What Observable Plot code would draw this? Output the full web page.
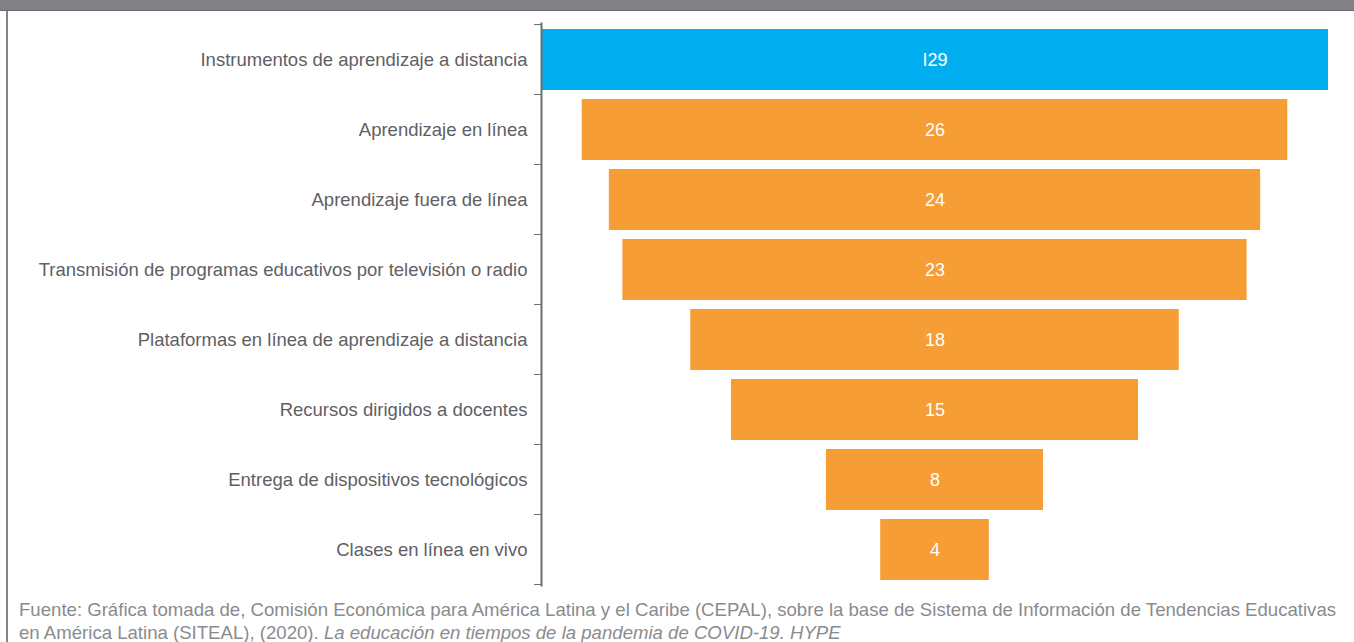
<!DOCTYPE html>
<html>
<head>
<meta charset="utf-8">
<script src="https://cdn.jsdelivr.net/npm/d3@7"></script>
<script src="https://cdn.jsdelivr.net/npm/@observablehq/plot@0.6"></script>
<style>
  html, body { margin: 0; padding: 0; background: #fff; width: 1354px; height: 642px; overflow: hidden; }
  #topband { position: absolute; left: 0; top: 0; width: 1354px; height: 10px; background: #818286; border-bottom: 1px solid #6b6c70; }
  #leftline { position: absolute; left: 6px; top: 11px; width: 2px; height: 631px; background: #848589; }
  #chart { position: absolute; left: 0; top: 11px; }
  #caption { position: absolute; left: 19px; top: 598px; width: 1335px; font-family: "Liberation Sans", Arial, sans-serif; font-size: 18.6px; line-height: 23px; color: #8a8b8f; white-space: nowrap; }
</style>
</head>
<body>
<div id="topband"></div>
<div id="leftline"></div>
<div id="chart"></div>
<div id="caption">Fuente: Gráfica tomada de, Comisión Económica para América Latina y el Caribe (CEPAL), sobre la base de Sistema de Información de Tendencias Educativas<br>en América Latina (SITEAL), (2020). <i>La educación en tiempos de la pandemia de COVID-19. HYPE</i></div>
<script>
const categories = [
  "Instrumentos de aprendizaje a distancia",
  "Aprendizaje en línea",
  "Aprendizaje fuera de línea",
  "Transmisión de programas educativos por televisión o radio",
  "Plataformas en línea de aprendizaje a distancia",
  "Recursos dirigidos a docentes",
  "Entrega de dispositivos tecnológicos",
  "Clases en línea en vivo"
];
const values = [29, 26, 24, 23, 18, 15, 8, 4];
const valueLabels = ["I29", "26", "24", "23", "18", "15", "8", "4"];
const groups = ["total", "parte", "parte", "parte", "parte", "parte", "parte", "parte"];

const data = categories.map((c, i) => ({
  cat: c,
  value: values[i],
  label: valueLabels[i],
  group: groups[i],
  x1: -values[i] / 2,
  x2: values[i] / 2
}));

const paddingInner = 0.134;

// Excel-style ticks at band boundaries on the left of the axis
function boundaryTicks(index, scales, values, dim) {
  const y = scales.y;
  const step = y.step ? y.step() : (dim.height - dim.marginTop - dim.marginBottom) / categories.length;
  const bw = y.bandwidth ? y.bandwidth() : step * (1 - paddingInner);
  const gap = (step - bw) / 2;
  const ys = categories.map(c => y(c) - gap);
  ys.push(y(categories[categories.length - 1]) + bw + gap);
  const g = d3.create("svg:g");
  const x0 = dim.marginLeft;
  g.selectAll("line").data(ys).join("line")
    .attr("x1", x0 - 7).attr("x2", x0)
    .attr("y1", d => d).attr("y2", d => d)
    .attr("stroke", "#6d6e71").attr("stroke-width", 1);
  return g.node();
}

const chart = Plot.plot({
  width: 1354,
  height: 580,
  marginLeft: 541,
  marginRight: 26,
  marginTop: 12,
  marginBottom: 6,
  style: { fontFamily: "'Liberation Sans', Arial, sans-serif", fontSize: "18.5px", background: "transparent" },
  x: { domain: [-14.5, 14.5], axis: null },
  y: { domain: categories, paddingInner: paddingInner, paddingOuter: paddingInner / 2, label: null },
  color: { domain: ["total", "parte"], range: ["#00AEEF", "#F79D35"] },
  marks: [
    Plot.barX(data, { y: "cat", x1: "x1", x2: "x2", fill: "group" }),
    Plot.text(data, { y: "cat", x: 0, text: "label", fill: "white", fontSize: 18 }),
    Plot.axisY({ tickSize: 0, tickPadding: 14, fontSize: 18.5, color: "#5f6064", label: null }),
    Plot.frame({ anchor: "left", stroke: "#6d6e71", strokeWidth: 2, strokeOpacity: 1 }),
    boundaryTicks
  ]
});
document.getElementById("chart").appendChild(chart);
</script>
</body>
</html>
